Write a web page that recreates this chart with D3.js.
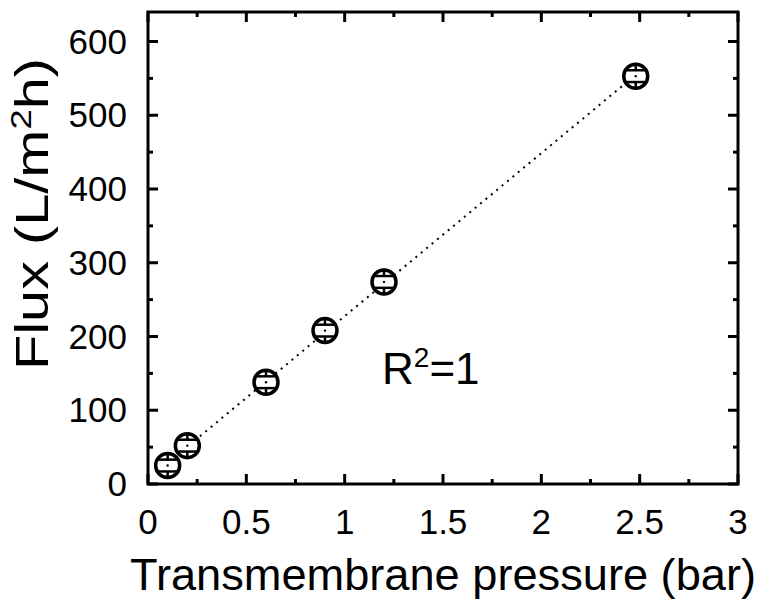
<!DOCTYPE html>
<html>
<head>
<meta charset="utf-8">
<script src="https://cdn.jsdelivr.net/npm/d3@7"></script>
<style>
  body { margin: 0; background: #fff; }
  text { font-family: "Liberation Sans", Arial, sans-serif; fill: #000; }
</style>
</head>
<body>
<div id="chart-area"></div>
<script>
// data
var pressure = [0.1, 0.2, 0.6, 0.9, 1.2, 2.48];
var flux = [25, 52, 138, 208, 274, 553];
var fluxErr = [8, 8, 8, 8, 8, 8];
var xTicks = [0, 0.5, 1, 1.5, 2, 2.5, 3];
var yTicks = [0, 100, 200, 300, 400, 500, 600];

var margin = { left: 148, right: 28, top: 12, bottom: 116 };
var width = 766 - margin.left - margin.right,
    height = 600 - margin.top - margin.bottom;

var svg = d3.select("#chart-area").append("svg")
    .attr("width", 766)
    .attr("height", 600);

var g = svg.append("g").attr("transform", "translate(" + margin.left + "," + margin.top + ")");

var x = d3.scaleLinear().domain([0, 3]).range([0, width]);
var y = d3.scaleLinear().domain([0, 640]).range([height, 0]);

// ticks, inward on all four sides
var xMinor = d3.range(0.25, 3, 0.5);
var yMinor = d3.range(50, 640, 100);

function tickLines(sel, vals, len, horiz, atEnd) {
    vals.forEach(function(v) {
        if (horiz) {
            var px = x(v);
            var y0 = atEnd ? 0 : height;
            sel.append("line")
                .attr("x1", px).attr("x2", px)
                .attr("y1", y0).attr("y2", atEnd ? y0 + len : y0 - len);
        } else {
            var py = y(v);
            var x0 = atEnd ? width : 0;
            sel.append("line")
                .attr("y1", py).attr("y2", py)
                .attr("x1", x0).attr("x2", atEnd ? x0 - len : x0 + len);
        }
    });
}

var ticks = g.append("g").attr("stroke", "#000").attr("stroke-width", 3);
tickLines(ticks, xTicks, 10, true, false);
tickLines(ticks, xTicks, 10, true, true);
tickLines(ticks, xMinor, 5, true, false);
tickLines(ticks, xMinor, 5, true, true);
tickLines(ticks, yTicks, 10, false, false);
tickLines(ticks, yTicks, 10, false, true);
tickLines(ticks, yMinor, 5, false, false);
tickLines(ticks, yMinor, 5, false, true);

// tick labels
var xFmt = d3.format("");
g.append("g").selectAll("text")
    .data(xTicks).enter().append("text")
    .attr("x", function(d) { return x(d); })
    .attr("y", height + 50)
    .attr("text-anchor", "middle")
    .attr("font-size", "35px")
    .text(function(d) { return xFmt(d); });

g.append("g").selectAll("text")
    .data(yTicks).enter().append("text")
    .attr("x", -21)
    .attr("y", function(d) { return y(d) + 12; })
    .attr("text-anchor", "end")
    .attr("font-size", "35px")
    .text(function(d) { return d; });

// fit line (least squares)
var n = pressure.length,
    mx = d3.mean(pressure), my = d3.mean(flux);
var slope = d3.sum(pressure, function(d, i) { return (d - mx) * (flux[i] - my); }) /
            d3.sum(pressure, function(d) { return (d - mx) * (d - mx); });
var icpt = my - slope * mx;
var fitX = [pressure[0], pressure[n - 1]];
g.append("path")
    .datum(fitX)
    .attr("fill", "none")
    .attr("stroke", "#000")
    .attr("stroke-width", 2)
    .attr("stroke-dasharray", "2,5")
    .attr("d", d3.line()
        .x(function(d) { return x(d); })
        .y(function(d) { return y(icpt + slope * d); }));

// markers with error bars
var pts = pressure.map(function(p, i) { return { p: p, f: flux[i], e: fluxErr[i] }; });
var mk = g.append("g").selectAll("g")
    .data(pts).enter().append("g")
    .attr("transform", function(d) { return "translate(" + x(d.p) + "," + y(d.f) + ")"; });

var r = 12;
mk.append("circle")
    .attr("r", r)
    .attr("fill", "#fff")
    .attr("stroke", "#000")
    .attr("stroke-width", 3.5);
mk.each(function(d) {
    var s = d3.select(this);
    var dy = y(0) - y(d.e);
    var half = Math.sqrt(r * r - dy * dy);
    [-dy, dy].forEach(function(c) {
        s.append("line")
            .attr("x1", -half).attr("x2", half)
            .attr("y1", c).attr("y2", c)
            .attr("stroke", "#000").attr("stroke-width", 2.5);
        s.append("line")
            .attr("x1", 0).attr("x2", 0)
            .attr("y1", c).attr("y2", c < 0 ? -r : r)
            .attr("stroke", "#000").attr("stroke-width", 2.5);
    });
    s.append("circle").attr("r", 1.2).attr("fill", "#000");
});

// frame
g.append("rect")
    .attr("width", width)
    .attr("height", height)
    .attr("fill", "none")
    .attr("stroke", "#000")
    .attr("stroke-width", 3);

// R^2 annotation
var rl = g.append("text")
    .attr("x", x(1.19))
    .attr("y", y(135))
    .attr("font-size", "44px");
rl.append("tspan").text("R");
rl.append("tspan").attr("dy", -17).attr("font-size", "28px").text("2");
rl.append("tspan").attr("dy", 17).text("=1");

// axis titles
svg.append("text")
    .attr("x", 443)
    .attr("y", 590)
    .attr("text-anchor", "middle")
    .attr("font-size", "45px")
    .attr("textLength", 626)
    .attr("lengthAdjust", "spacingAndGlyphs")
    .text("Transmembrane pressure (bar)");

var yt = svg.append("text")
    .attr("transform", "translate(48,214) rotate(-90)")
    .attr("text-anchor", "middle")
    .attr("font-size", "46px")
    .attr("textLength", 312)
    .attr("lengthAdjust", "spacingAndGlyphs");
yt.append("tspan").text("Flux (L/m");
yt.append("tspan").attr("dy", -17).attr("font-size", "29px").text("2");
yt.append("tspan").attr("dy", 17).text("h)");
</script>
</body>
</html>
